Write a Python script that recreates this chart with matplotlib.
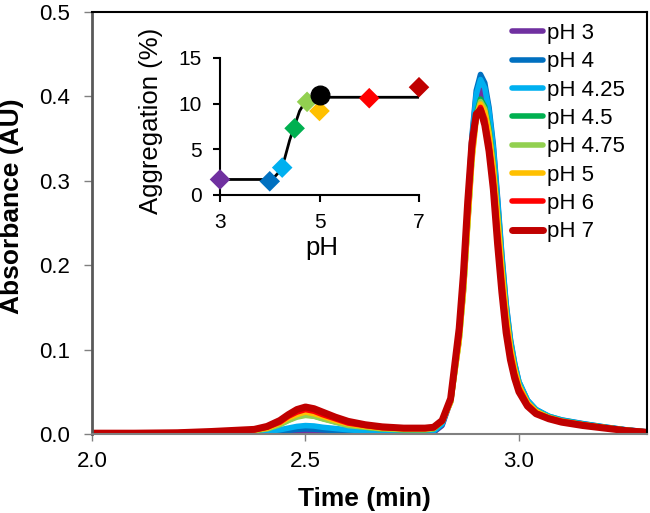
import matplotlib
matplotlib.use("Agg")
import matplotlib.pyplot as plt

plt.rcParams['font.family'] = ['Liberation Sans', 'DejaVu Sans']

# chromatograms: shared time grid (min) and absorbance (AU) per pH
time = [2.00, 2.10, 2.20, 2.28, 2.34, 2.38, 2.41, 2.44, 2.46, 2.48, 2.50, 2.52,
        2.54, 2.57, 2.60, 2.64, 2.68, 2.73, 2.78,
        2.80, 2.82, 2.84, 2.86, 2.87, 2.88, 2.89, 2.90, 2.91, 2.92, 2.93, 2.94,
        2.95, 2.96, 2.97, 2.98, 2.99, 3.00, 3.02, 3.04, 3.07, 3.10, 3.15, 3.20,
        3.25, 3.30]

abs_ph3 = [0.0005, 0.0005, 0.0005, 0.0007, 0.0008, 0.001, 0.0013, 0.002, 0.003,
           0.0036, 0.004, 0.0038, 0.0033, 0.0026, 0.002, 0.0015, 0.0012, 0.001, 0.001,
           0.002, 0.010, 0.039, 0.115, 0.175, 0.257, 0.339, 0.390, 0.408, 0.398,
           0.371, 0.329, 0.268, 0.204, 0.148, 0.108, 0.080, 0.060, 0.038, 0.028,
           0.020, 0.016, 0.0117, 0.008, 0.0048, 0.0023]
abs_ph4 = [0.0005, 0.0005, 0.0006, 0.0008, 0.001, 0.0013, 0.002, 0.003, 0.0043,
           0.0055, 0.006, 0.0057, 0.005, 0.004, 0.003, 0.0022, 0.0018, 0.0015, 0.0015,
           0.0025, 0.011, 0.041, 0.120, 0.183, 0.269, 0.353, 0.407, 0.426, 0.416,
           0.387, 0.343, 0.280, 0.213, 0.155, 0.113, 0.084, 0.062, 0.040, 0.029,
           0.021, 0.0167, 0.0123, 0.0084, 0.005, 0.0025]
abs_ph425 = [0.0005, 0.0005, 0.0008, 0.001, 0.0015, 0.002, 0.003, 0.005, 0.007,
             0.009, 0.010, 0.0095, 0.008, 0.0065, 0.005, 0.0035, 0.003, 0.0025, 0.0025,
             0.0035, 0.012, 0.040, 0.119, 0.180, 0.265, 0.349, 0.402, 0.420, 0.410,
             0.382, 0.339, 0.276, 0.210, 0.153, 0.111, 0.083, 0.062, 0.040, 0.029,
             0.021, 0.0165, 0.012, 0.0083, 0.005, 0.0024]
abs_ph45 = [0.001, 0.001, 0.0012, 0.002, 0.003, 0.004, 0.0065, 0.0115, 0.0165,
            0.021, 0.023, 0.0215, 0.0185, 0.0145, 0.011, 0.008, 0.006, 0.005, 0.005,
            0.006, 0.015, 0.038, 0.112, 0.170, 0.250, 0.329, 0.379, 0.397, 0.388,
            0.361, 0.320, 0.261, 0.198, 0.144, 0.105, 0.078, 0.058, 0.037, 0.027,
            0.020, 0.0156, 0.0114, 0.0078, 0.0047, 0.0023]
abs_ph475 = [0.001, 0.001, 0.0012, 0.002, 0.003, 0.004, 0.006, 0.011, 0.016,
             0.020, 0.022, 0.021, 0.018, 0.014, 0.010, 0.008, 0.006, 0.005, 0.005,
             0.006, 0.0148, 0.038, 0.111, 0.169, 0.248, 0.327, 0.376, 0.394, 0.385,
             0.358, 0.318, 0.259, 0.197, 0.143, 0.104, 0.077, 0.058, 0.037, 0.027,
             0.020, 0.0155, 0.011, 0.0077, 0.0046, 0.0023]
abs_ph5 = [0.001, 0.001, 0.0013, 0.0025, 0.0035, 0.0045, 0.007, 0.013, 0.019,
           0.023, 0.026, 0.024, 0.021, 0.016, 0.012, 0.009, 0.007, 0.006, 0.006,
           0.007, 0.0147, 0.0376, 0.110, 0.168, 0.247, 0.324, 0.373, 0.391, 0.382,
           0.355, 0.315, 0.257, 0.195, 0.142, 0.103, 0.077, 0.057, 0.037, 0.027,
           0.019, 0.015, 0.011, 0.0077, 0.0046, 0.0022]
abs_ph6 = [0.001, 0.001, 0.0015, 0.0028, 0.004, 0.005, 0.008, 0.014, 0.021,
           0.026, 0.029, 0.027, 0.023, 0.018, 0.013, 0.010, 0.0075, 0.0065, 0.0065,
           0.0075, 0.015, 0.040, 0.118, 0.179, 0.261, 0.334, 0.376, 0.387, 0.373,
           0.344, 0.302, 0.240, 0.181, 0.131, 0.096, 0.071, 0.054, 0.035, 0.025,
           0.019, 0.015, 0.011, 0.0073, 0.0043, 0.0021]
abs_ph7 = [0.001, 0.001, 0.0015, 0.003, 0.0045, 0.0055, 0.009, 0.016, 0.023,
           0.029, 0.032, 0.030, 0.026, 0.020, 0.015, 0.011, 0.0085, 0.007, 0.007,
           0.008, 0.016, 0.042, 0.125, 0.190, 0.275, 0.345, 0.379, 0.384, 0.366,
           0.335, 0.290, 0.225, 0.168, 0.120, 0.088, 0.066, 0.050, 0.033, 0.024,
           0.018, 0.014, 0.010, 0.007, 0.004, 0.002]

labels = ['pH 3', 'pH 4', 'pH 4.25', 'pH 4.5', 'pH 4.75', 'pH 5', 'pH 6', 'pH 7']
traces = [abs_ph3, abs_ph4, abs_ph425, abs_ph45, abs_ph475, abs_ph5, abs_ph6, abs_ph7]
colors = ['#7030A0', '#0070C0', '#00B0F0', '#00B050', '#92D050', '#FFC000',
          '#FF0000', '#C00000']

# inset: aggregation vs pH
ph_vals = [3, 4, 4.25, 4.5, 4.75, 5, 6, 7]
aggregation = [1.7, 1.5, 3.0, 7.3, 10.2, 9.2, 10.6, 11.8]
ref_ph = 5
ref_agg = 11.0
fit_ph = [3.0, 4.0, 4.1, 4.2, 4.3, 4.4, 4.5, 4.6, 4.7, 4.8, 4.9, 5.0, 7.0]
fit_agg = [1.7, 1.7, 2.0, 2.6, 4.0, 6.0, 7.6, 9.2, 10.1, 10.5, 10.65, 10.7, 10.7]

fig = plt.figure(figsize=(6.5, 5.13), dpi=100)
ax = fig.add_axes([92 / 650, 79 / 513, 555 / 650, 422 / 513])

handles = []
for y, lab, c in zip(traces, labels, colors):
    lw = 5 if lab == 'pH 7' else 4
    h, = ax.plot(time, y, color=c, lw=lw, label=lab, solid_capstyle='round')
    handles.append(h)

ax.set_xlim(2.0, 3.3)
ax.set_ylim(0, 0.5)
ax.set_xticks([2.0, 2.5, 3.0])
ax.set_xticklabels(['2.0', '2.5', '3.0'])
ax.set_yticks([0, 0.1, 0.2, 0.3, 0.4, 0.5])
ax.set_yticklabels(['0.0', '0.1', '0.2', '0.3', '0.4', '0.5'])
ax.tick_params(direction='out', length=5, width=1, color='#808080',
               labelsize=16, pad=7)
ax.tick_params(axis='y', length=6, pad=10)
for s in ['top', 'right']:
    ax.spines[s].set_color('black')
    ax.spines[s].set_linewidth(1.5)
ax.spines['left'].set_color('#595959')
ax.spines['left'].set_linewidth(2)
ax.spines['bottom'].set_color('#808080')
ax.spines['bottom'].set_linewidth(1.5)

ax.set_xlabel('Time (min)', fontsize=19, fontweight='bold')
ax.set_ylabel('Absorbance (AU)', fontsize=19, fontweight='bold')
ax.xaxis.set_label_coords(0.49, -0.125)
ax.yaxis.set_label_coords(-0.122, 0.54)

leg = ax.legend(handles=handles, loc='upper left',
                bbox_to_anchor=(512 / 650, 1 - 23 / 513),
                bbox_transform=fig.transFigure, frameon=False, fontsize=16,
                handlelength=1.4, handletextpad=0.18, labelspacing=0.33,
                borderpad=0, borderaxespad=0)

# inset
ins = fig.add_axes([220 / 650, 1 - 195 / 513, 199 / 650, 137 / 513])
ins.set_facecolor('none')
ins.plot(fit_ph, fit_agg, color='black', lw=2, zorder=2)
ins.scatter(ph_vals, aggregation, marker='D', s=110, c=colors, zorder=3,
            clip_on=False, linewidths=0)
ins.scatter([ref_ph], [ref_agg], marker='o', s=180, color='black', zorder=4,
            clip_on=False)
ins.set_xlim(3, 7)
ins.set_ylim(0, 15)
ins.set_xticks([3, 5, 7])
ins.set_yticks([0, 5, 10, 15])
for s in ['top', 'right']:
    ins.spines[s].set_visible(False)
for s in ['left', 'bottom']:
    ins.spines[s].set_linewidth(1.5)
ins.tick_params(direction='out', length=5, width=1.5, labelsize=15, pad=8)
ins.set_xlabel('pH', fontsize=18.5)
ins.set_ylabel('Aggregation (%)', fontsize=18.5)
ins.xaxis.set_label_coords(0.51, -0.3)
ins.yaxis.set_label_coords(-0.285, 0.54)

fig.savefig('out.png', dpi=100)
